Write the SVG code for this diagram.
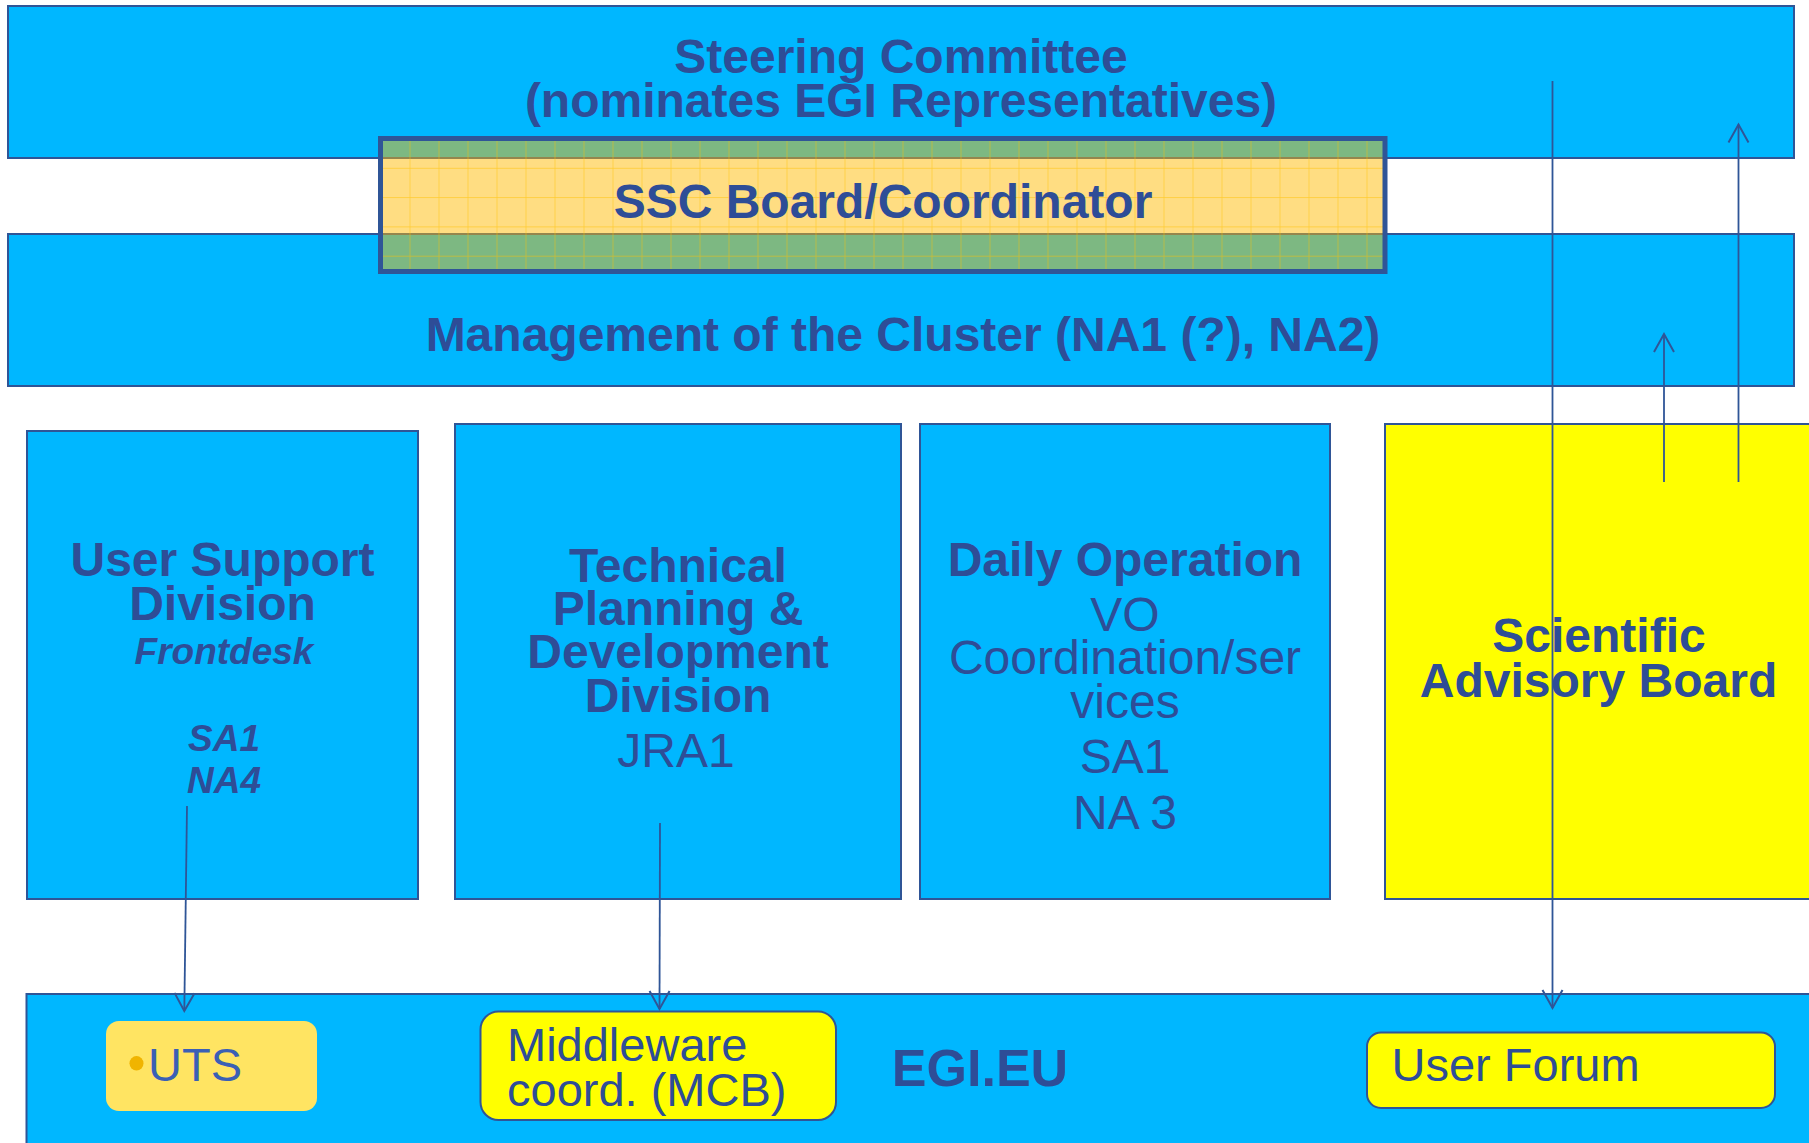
<svg xmlns="http://www.w3.org/2000/svg" width="1809" height="1143" viewBox="0 0 1809 1143">
<style>
.box{fill:#00B7FF;stroke:#2F5597;stroke-width:2}
.ybox{fill:#FFFF00;stroke:#2F5597;stroke-width:2}
.t{font-family:"Liberation Sans",Arial,sans-serif;fill:#2E4D97;text-anchor:middle}
.b{font-weight:bold;font-size:48px}
.r{font-size:48px}
.bi{font-weight:bold;font-style:italic;font-size:37px}
.lt{font-family:"Liberation Sans",Arial,sans-serif;fill:#2E4D97;font-size:47px}
.conn{stroke:#2F5597;stroke-width:1.8;fill:none}
</style>
<defs>
<marker id="arr" markerWidth="24" markerHeight="24" refX="20" refY="12" orient="auto" markerUnits="userSpaceOnUse" viewBox="0 0 24 24">
<path d="M2,2 L20,12 L2,22" fill="none" stroke="#2F5597" stroke-width="2"/>
</marker>
<pattern id="grid" patternUnits="userSpaceOnUse" x="380.5" y="138.5" width="29" height="29.3">
<path d="M0,0 V29.3 M0,0 H29" fill="none" stroke="#FFC000" stroke-width="1.3" stroke-opacity="0.65"/>
</pattern>
</defs>
<rect width="1809" height="1143" fill="#FFFFFF"/>

<g id="steering">
<rect class="box" x="8" y="6" width="1786" height="152"/>
<text class="t b" x="901" y="72.7">Steering Committee</text>
<text class="t b" x="901" y="117.3">(nominates EGI Representatives)</text>
</g>

<g id="management">
<rect class="box" x="8" y="234" width="1786" height="152"/>
<text class="t b" x="903" y="351">Management of the Cluster (NA1 (?), NA2)</text>
</g>

<g id="ssc">
<rect x="380.5" y="138.5" width="1004.5" height="133" fill="#FFB900" fill-opacity="0.49"/>
<rect x="380.5" y="138.5" width="1004.5" height="133" fill="url(#grid)"/>
<rect x="380.5" y="138.5" width="1004.5" height="133" fill="none" stroke="#2F5597" stroke-width="5"/>
<text class="t b" x="883" y="218.3">SSC Board/Coordinator</text>
</g>

<g id="usersupport">
<rect class="box" x="27" y="431" width="391" height="468"/>
<text class="t b" x="222.5" y="576">User Support</text>
<text class="t b" x="222.5" y="620">Division</text>
<text class="t bi" x="224" y="664">Frontdesk</text>
<text class="t bi" x="224" y="751">SA1</text>
<text class="t bi" x="224" y="793">NA4</text>
</g>

<g id="technical">
<rect class="box" x="455" y="424" width="446" height="475"/>
<text class="t b" x="678" y="581.5">Technical</text>
<text class="t b" x="678" y="625">Planning &amp;</text>
<text class="t b" x="678" y="668">Development</text>
<text class="t b" x="678" y="711.5">Division</text>
<text class="t r" x="676" y="766.7">JRA1</text>
</g>

<g id="daily">
<rect class="box" x="920" y="424" width="410" height="475"/>
<text class="t b" x="1125" y="575.7">Daily Operation</text>
<text class="t r" x="1125" y="630.7">VO</text>
<text class="t r" x="1125" y="674.3">Coordination/ser</text>
<text class="t r" x="1125" y="717.7">vices</text>
<text class="t r" x="1125" y="773.3">SA1</text>
<text class="t r" x="1125" y="829">NA 3</text>
</g>

<g id="scientific">
<rect class="ybox" x="1385" y="424" width="440" height="475"/>
<text class="t b" x="1599" y="651.7">Scientific</text>
<text class="t b" x="1598.5" y="696.7">Advisory Board</text>
</g>

<g id="egieu">
<rect class="box" x="26.5" y="994" width="1800" height="160"/>
<text class="t" x="980" y="1086" style="font-weight:bold;font-size:52px">EGI.EU</text>
</g>

<g id="uts">
<rect x="106" y="1021" width="211" height="90" rx="13" ry="13" fill="#FFE462"/>
<ellipse cx="136.5" cy="1063.3" rx="7" ry="7.3" fill="#F0B400"/>
<text class="lt" x="148" y="1080.7" style="fill:#3A5FB5">UTS</text>
</g>

<g id="middleware">
<rect class="ybox" x="480.5" y="1011.5" width="355.5" height="108.5" rx="18" ry="18"/>
<text class="lt" x="507" y="1061">Middleware</text>
<text class="lt" x="507" y="1106">coord. (MCB)</text>
</g>

<g id="userforum">
<rect class="ybox" x="1367" y="1032.5" width="408" height="75.5" rx="14" ry="14"/>
<text class="lt" x="1391.5" y="1081">User Forum</text>
</g>

<g id="connectors">
<line class="conn" x1="187" y1="806" x2="184.3" y2="1011" marker-end="url(#arr)"/>
<line class="conn" x1="660" y1="823" x2="659.5" y2="1009" marker-end="url(#arr)"/>
<line class="conn" x1="1552.5" y1="81" x2="1552.5" y2="1008" marker-end="url(#arr)"/>
<line class="conn" x1="1664" y1="482" x2="1664" y2="334" marker-end="url(#arr)"/>
<line class="conn" x1="1738.5" y1="482" x2="1738.5" y2="124.5" marker-end="url(#arr)"/>
</g>
</svg>
